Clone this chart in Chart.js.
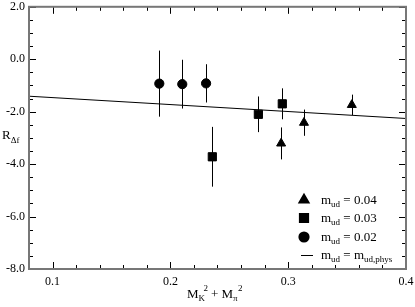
<!DOCTYPE html>
<html>
<head>
<meta charset="utf-8">
<script src="https://cdn.jsdelivr.net/npm/chart.js@4/dist/chart.umd.min.js"></script>
<style>
  html, body { margin: 0; padding: 0; background: #fff; }
  canvas { display: block; }
</style>
</head>
<body>
<canvas id="chart" width="415" height="307"></canvas>
<script>
// data
const xTicks = [0.1, 0.2, 0.3, 0.4]
const yTicks = [-8, -6, -4, -2, 0, 2]

const x04 = [0.294, 0.3134, 0.354]
const y04 = [-3.21, -2.42, -1.74]
const e04 = [0.61, 0.50, 0.39]

const x03 = [0.2356, 0.2747, 0.295]
const y03 = [-3.72, -2.10, -1.70]
const e03 = [1.14, 0.68, 0.59]

const x02 = [0.1906, 0.2101, 0.2303]
const y02 = [-0.93, -0.95, -0.92]
const e02 = [1.26, 0.93, 0.73]

const xPhys = [0.08, 0.4]
const yPhys = [-1.41, -2.26]

const legendLabels = ['0.04', '0.03', '0.02']

const serif = "'Liberation Serif', 'Times New Roman', serif"

function pts(xs, ys) {
  return xs.map((x, i) => ({ x, y: ys[i] }))
}

// error bars, ticks, frame, legend, axis titles
const extras = {
  id: 'extras',
  beforeDatasetsDraw(chart) {
    const ctx = chart.ctx
    const xs = chart.scales.x, ys = chart.scales.y
    ctx.save()
    ctx.strokeStyle = '#000'
    ctx.lineWidth = 1
    ;[[x04, y04, e04], [x03, y03, e03], [x02, y02, e02]].forEach(([X, Y, E]) => {
      X.forEach((x, i) => {
        const px = Math.round(xs.getPixelForValue(x)) + 0.5
        ctx.beginPath()
        ctx.moveTo(px, ys.getPixelForValue(Y[i] + E[i]))
        ctx.lineTo(px, ys.getPixelForValue(Y[i] - E[i]))
        ctx.stroke()
      })
    })
    ctx.restore()
  },
  afterDraw(chart) {
    const ctx = chart.ctx
    const a = chart.chartArea
    const xs = chart.scales.x, ys = chart.scales.y
    ctx.save()

    // inward ticks on all four sides
    ctx.strokeStyle = '#000'
    ctx.lineWidth = 1
    for (let v = 0.08; v <= 0.4001; v += 0.02) {
      const major = xTicks.some(t => Math.abs(t - v) < 1e-6)
      const len = major ? 7 : 4
      const px = Math.round(xs.getPixelForValue(v)) + 0.5
      ctx.beginPath()
      ctx.moveTo(px, a.bottom); ctx.lineTo(px, a.bottom - len)
      ctx.moveTo(px, a.top); ctx.lineTo(px, a.top + len)
      ctx.stroke()
    }
    for (let v = -8; v <= 2.001; v += 0.5) {
      const major = yTicks.some(t => Math.abs(t - v) < 1e-6)
      const len = major ? 7 : 4
      const py = Math.round(ys.getPixelForValue(v)) + 0.5
      ctx.beginPath()
      ctx.moveTo(a.left, py); ctx.lineTo(a.left + len, py)
      ctx.moveTo(a.right, py); ctx.lineTo(a.right - len, py)
      ctx.stroke()
    }

    // frame
    ctx.strokeStyle = '#777'
    ctx.lineWidth = 2
    ctx.strokeRect(a.left, a.top, a.right - a.left, a.bottom - a.top)

    // legend
    ctx.fillStyle = '#000'
    ctx.strokeStyle = '#000'
    const styles = ['triangle', 'rect', 'circle']
    const radii = [5.2, 5.8, 4.6]
    const rows = [200, 218, 237, 255]
    styles.forEach((s, i) => {
      Chart.helpers.drawPoint(ctx, { pointStyle: s, radius: radii[i], borderWidth: 1 }, 304, rows[i])
      ctx.fill()
    })
    ctx.lineWidth = 1
    ctx.beginPath()
    ctx.moveTo(301, rows[3] + 0.5); ctx.lineTo(313, rows[3] + 0.5)
    ctx.stroke()

    ctx.textBaseline = 'alphabetic'
    ctx.textAlign = 'left'
    const writeM = (x, y, sub) => {
      ctx.font = '13px ' + serif
      ctx.fillText('m', x, y)
      const w = ctx.measureText('m').width
      ctx.font = '9px ' + serif
      ctx.fillText(sub, x + w, y + 3)
      return x + w + ctx.measureText(sub).width
    }
    rows.forEach((ry, i) => {
      const base = ry + 4
      let x = writeM(321, base, 'ud')
      ctx.font = '13px ' + serif
      if (i < 3) {
        ctx.fillText(' = ' + legendLabels[i], x, base)
      } else {
        ctx.fillText(' = ', x, base)
        x += ctx.measureText(' = ').width
        writeM(x, base, 'ud,phys')
      }
    })

    // y title R_Δf
    ctx.font = '13px ' + serif
    ctx.fillText('R', 2, 139)
    const rw = ctx.measureText('R').width
    ctx.font = '9px ' + serif
    ctx.fillText('\u0394f', 2 + rw, 143)

    // x title M_K^2 + M_π^2
    let x = 187
    const b = 298
    const part = (t, size, dy) => {
      ctx.font = size + 'px ' + serif
      ctx.fillText(t, x, b + dy)
      return ctx.measureText(t).width
    }
    x += part('M', 13, 0)
    part('K', 9, 3)
    x += 5
    x += part('2', 9, -7)
    x += 3
    x += part('+', 13, 0)
    x += 3
    x += part('M', 13, 0)
    part('\u03c0', 9, 3)
    x += 5
    part('2', 9, -7)

    ctx.restore()
  }
}

new Chart(document.getElementById('chart'), {
  type: 'scatter',
  data: {
    datasets: [
      { label: 'mud = 0.04', data: pts(x04, y04), pointStyle: 'triangle', pointRadius: 5.2,
        backgroundColor: '#000', borderColor: '#000', borderWidth: 1 },
      { label: 'mud = 0.03', data: pts(x03, y03), pointStyle: 'rect', pointRadius: 5.8,
        backgroundColor: '#000', borderColor: '#000', borderWidth: 1 },
      { label: 'mud = 0.02', data: pts(x02, y02), pointStyle: 'circle', pointRadius: 4.6,
        backgroundColor: '#000', borderColor: '#000', borderWidth: 1 },
      { type: 'line', label: 'mud = mud,phys', data: pts(xPhys, yPhys), borderColor: '#000',
        borderWidth: 1, pointRadius: 0, fill: false, tension: 0 }
    ]
  },
  options: {
    responsive: false,
    animation: false,
    devicePixelRatio: 1,
    layout: { padding: { top: 5, right: 9, left: 0, bottom: 0 } },
    plugins: { legend: { display: false }, tooltip: { enabled: false } },
    scales: {
      x: {
        type: 'linear',
        min: 0.08,
        max: 0.4,
        grid: { display: false, drawTicks: false },
        border: { display: false },
        afterBuildTicks: s => { s.ticks = xTicks.map(v => ({ value: v })) },
        afterFit: s => { s.height = 38; s.paddingLeft = 0; s.paddingRight = 0 },
        ticks: {
          padding: 6,
          maxRotation: 0,
          color: '#000',
          font: { family: serif, size: 12 },
          callback: v => v.toFixed(1)
        }
      },
      y: {
        min: -8,
        max: 2,
        grid: { display: false, drawTicks: false },
        border: { display: false },
        afterBuildTicks: s => { s.ticks = yTicks.map(v => ({ value: v })) },
        afterFit: s => { s.width = 29; s.paddingTop = 0; s.paddingBottom = 0 },
        ticks: {
          padding: 4,
          color: '#000',
          font: { family: serif, size: 12 },
          callback: v => v.toFixed(1)
        }
      }
    }
  },
  plugins: [extras]
})
</script>
</body>
</html>
